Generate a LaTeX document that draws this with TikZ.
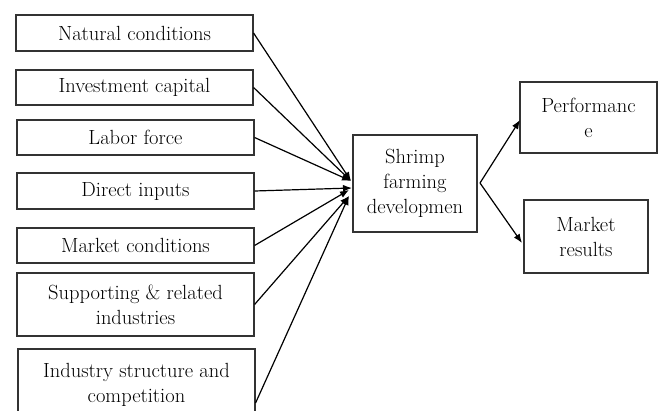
\documentclass[tikz,border=0pt]{standalone}
\usetikzlibrary{arrows.meta}
\begin{document}
\begin{tikzpicture}[x=1pt,y=-1pt,
  box/.style={draw=black!80,line width=1.1pt,inner sep=0pt,align=center,
    font=\fontsize{20.5}{25}\selectfont},
  arr/.style={line width=1.2pt,-{Latex[length=9pt,width=7pt]}}]
\useasboundingbox (0,0) rectangle (659,410);
\clip (0,0) rectangle (659,410);
\node[box,minimum width=237pt,minimum height=36pt] (n1) at (134.5,33) {Natural conditions};
\node[box,minimum width=237pt,minimum height=35pt] (n2) at (134.5,87.5) {Investment capital};
\node[box,minimum width=237pt,minimum height=35pt] (n3) at (135.5,137.5) {Labor force};
\node[box,minimum width=237pt,minimum height=36pt] (n4) at (135.5,191) {Direct inputs};
\node[box,minimum width=237pt,minimum height=35pt] (n5) at (135.5,245.5) {Market conditions};
\node[box,minimum width=237pt,minimum height=63pt] (n6) at (135.5,304.5) {Supporting \& related\\industries};
\node[box,minimum width=237pt,minimum height=72pt] (n7) at (136.5,385) {Industry structure and\\competition};
\node[box,minimum width=124pt,minimum height=97pt] (sh) at (415,183.5) {Shrimp\\farming\\developmen};
\node[box,minimum width=137pt,minimum height=71pt] (pf) at (588.5,117.5) {Performanc\\e};
\node[box,minimum width=124pt,minimum height=73pt] (mr) at (586,236.5) {Market\\results};
\coordinate (ca) at (351,181);
\coordinate (cb) at (352,188);
\coordinate (cc) at (349,190);
\coordinate (cd) at (349,196);
\coordinate (cr) at (480,183);
\coordinate (pa) at (520,120);
\coordinate (ma) at (522,243);
\draw[arr] (n1.east) -- (ca);
\draw[arr] (n2.east) -- (ca);
\draw[arr] (n3.east) -- (ca);
\draw[arr] (n4.east) -- (cb);
\draw[arr] (n5.east) -- (cc);
\draw[arr] (n6.east) -- (cd);
\draw[arr] ([yshift=-18pt]n7.east) -- (cd);
\draw[arr] (cr) -- (pa);
\draw[arr] (cr) -- (ma);
\end{tikzpicture}
\end{document}
